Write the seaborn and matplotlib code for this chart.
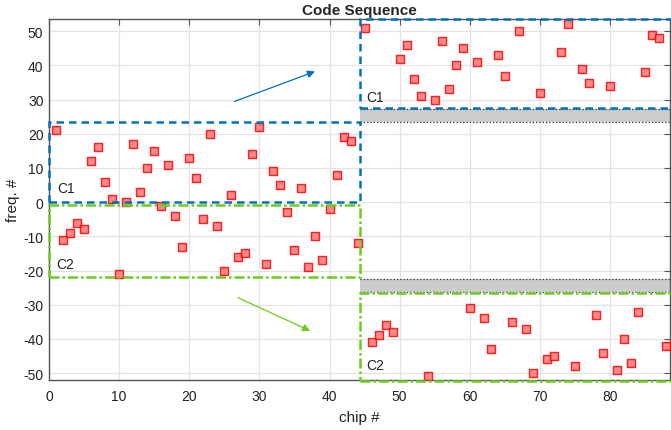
import matplotlib.pyplot as plt
import matplotlib.patches as mpatches
import seaborn as sns
import numpy as np
import pandas as pd

# chip numbers and codes
chip_left = list(range(1, 45))
freq_left = [21, -11, -9, -6, -8, 12, 16, 6, 1, -21, 0, 17, 3, 10, 15, -1, 11, -4, -13, 13,
             7, -5, 20, -7, -20, 2, -16, -15, 14, 22, -18, 9, 5, -3, -14, 4, -19, -10, -17, -2,
             8, 19, 18, -12]
chip_right = list(range(45, 89))
freq_right = [51, -41, -39, -36, -38, 42, 46, 36, 31, -51, 30, 47, 33, 40, 45, -31, 41, -34, -43, 43,
              37, -35, 50, -37, -50, 32, -46, -45, 44, 52, -48, 39, 35, -33, -44, 34, -49, -40, -47, -32,
              38, 49, 48, -42]

df = pd.DataFrame({"chip": chip_left + chip_right, "freq": freq_left + freq_right})

blue = "#0072BD"
green = "#6ACD1A"

sns.set_style("whitegrid")
plt.rcParams["font.family"] = ["Liberation Sans", "DejaVu Sans"]
plt.rcParams["axes.unicode_minus"] = False

fig = plt.figure(figsize=(6.71, 4.31), dpi=100)
ax = fig.add_axes([0.073, 0.117, 0.926, 0.836])

# gray separation bands
for y0, y1 in [(23.5, 27.2), (-26.2, -22.5)]:
    ax.add_patch(mpatches.Rectangle((44.4, y0), 44.4, y1 - y0, facecolor="#cccccc",
                                    edgecolor="none", zorder=1))
    ax.plot([44.4, 88.8], [y0, y0], ls=":", color="#333333", lw=0.9, zorder=2)
    ax.plot([44.4, 88.8], [y1, y1], ls=":", color="#333333", lw=0.9, zorder=2)

sns.scatterplot(data=df, x="chip", y="freq", marker="s", s=38,
                color=(1.0, 0.45, 0.45), edgecolor="#ff0000", linewidth=1.0,
                alpha=0.85, ax=ax, zorder=3)

# cluster boxes
boxes = [
    ((0.0, -0.1), 44.4, 23.4, blue, (0, (3, 2))),
    ((0.0, -22.0), 44.4, 21.3, green, (0, (4, 1.2, 1, 1.2))),
    ((44.4, 27.6), 44.4, 26.0, blue, (0, (3, 2))),
    ((44.4, -52.2), 44.4, 25.6, green, (0, (4, 1.2, 1, 1.2))),
]
for xy, w, h, c, ls in boxes:
    ax.add_patch(mpatches.Rectangle(xy, w, h, fill=False, edgecolor=c, lw=1.8,
                                    linestyle=ls, zorder=4, clip_on=False))

ax.text(1.2, 2.9, "C1", fontsize=10, color="#222222", zorder=5)
ax.text(1.0, -19.3, "C2", fontsize=10, color="#222222", zorder=5)
ax.text(45.3, 29.7, "C1", fontsize=10, color="#222222", zorder=5)
ax.text(45.3, -48.8, "C2", fontsize=10, color="#222222", zorder=5)

ax.annotate("", xy=(38.3, 38.5), xytext=(26.1, 29.2),
            arrowprops=dict(arrowstyle="-|>", color=blue, lw=0.9, mutation_scale=11))
ax.annotate("", xy=(37.6, -38.0), xytext=(26.6, -27.6),
            arrowprops=dict(arrowstyle="-|>", color=green, lw=0.9, mutation_scale=11))

ax.set_xlim(0, 88.6)
ax.set_ylim(-51.9, 53.5)
ax.set_xticks(np.arange(0, 81, 10))
ax.set_yticks(np.arange(-50, 51, 10))
ax.grid(True, color="#e3e3e3", lw=0.9)
ax.set_axisbelow(True)
for sp in ax.spines.values():
    sp.set_color("#555555")
    sp.set_linewidth(1.0)
ax.tick_params(direction="in", length=4, width=0.8, color="#555555", labelsize=10,
               labelcolor="#222222", top=True, right=True)
ax.tick_params(axis="x", pad=7)
ax.tick_params(axis="y", pad=4)

ax.set_title("Code Sequence", fontsize=11, fontweight="bold", pad=4)
ax.set_xlabel("chip #", fontsize=11, color="#222222", labelpad=5)
ax.set_ylabel("freq. #", fontsize=11, color="#222222", labelpad=2)

fig.savefig("out.png", dpi=100)
